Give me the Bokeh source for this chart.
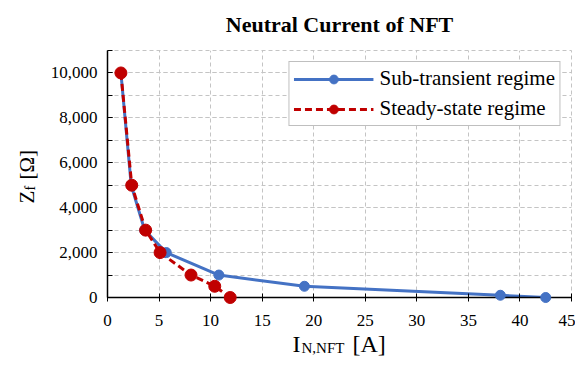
import math
from bokeh.plotting import figure
from bokeh.models import (Range1d, SingleIntervalTicker, FixedTicker, NumeralTickFormatter,
                          Legend, LegendItem)
from bokeh.core.properties import value
from bokeh.embed import file_html
from bokeh.resources import INLINE

# data
sub_I = [1.3, 2.3, 3.6, 5.7, 10.8, 19.1, 38.1, 42.5]
sub_Z = [10000, 5000, 3000, 2000, 1000, 500, 100, 0]
ss_I = [1.3, 2.35, 3.7, 5.1, 8.1, 10.4, 11.9]
ss_Z = [10000, 5000, 3000, 2000, 1000, 500, 0]
x_ticks = [0, 5, 10, 15, 20, 25, 30, 35, 40, 45]
X_MAX = 45
Y_MAX = 11000
TITLE = "Neutral Current of NFT"

SERIF = "Liberation Serif"
BLUE = "#4472C4"
RED = "#C00000"
GRID = "#c4c4c4"

W, H = 575, 369
BL, BR, BT, BB = 107, 4, 50, 72
FW, FH = W - BL - BR, H - BT - BB

p = figure(width=W, height=H, output_backend="svg", toolbar_location=None,
           x_range=Range1d(0, X_MAX), y_range=Range1d(0, Y_MAX),
           min_border_left=BL, min_border_right=BR, min_border_top=BT, min_border_bottom=BB)
p.background_fill_color = "white"
p.border_fill_color = "white"
p.outline_line_color = GRID
p.outline_line_dash = "4 3"

# axes
p.xaxis.ticker = FixedTicker(ticks=x_ticks)
p.xaxis.major_label_text_font = SERIF
p.xaxis.major_label_text_font_size = "17px"
p.xaxis.major_label_text_color = "black"
p.xaxis.axis_line_color = "black"
p.xaxis.axis_line_width = 1.5
p.xaxis.major_tick_in = 4
p.xaxis.major_tick_out = 4
p.xaxis.major_tick_line_color = "black"
p.xaxis.minor_tick_line_color = None
p.xaxis.major_label_standoff = 13

p.yaxis.ticker = SingleIntervalTicker(interval=2000, num_minor_ticks=2)
p.yaxis.formatter = NumeralTickFormatter(format="0,0")
p.yaxis.major_label_text_font = SERIF
p.yaxis.major_label_text_font_size = "17px"
p.yaxis.major_label_text_color = "black"
p.yaxis.axis_line_color = "black"
p.yaxis.axis_line_width = 1.5
p.yaxis.major_tick_in = 5
p.yaxis.major_tick_out = 0
p.yaxis.minor_tick_in = 5
p.yaxis.minor_tick_out = 0
p.yaxis.major_tick_line_color = "black"
p.yaxis.minor_tick_line_color = "black"
p.yaxis.major_label_standoff = 10

p.xgrid.grid_line_color = GRID
p.xgrid.grid_line_dash = "4 3"
p.ygrid.grid_line_color = GRID
p.ygrid.grid_line_dash = "4 3"
p.ygrid.minor_grid_line_color = GRID
p.ygrid.minor_grid_line_dash = "4 3"

# series
l1 = p.line(sub_I, sub_Z, line_color=BLUE, line_width=3)
s1 = p.scatter(sub_I, sub_Z, size=10, fill_color=BLUE, line_color=BLUE, level="overlay")
l2 = p.line(ss_I, ss_Z, line_color=RED, line_width=3, line_dash="7 4")
s2 = p.scatter(ss_I, ss_Z, size=12, fill_color=RED, line_color=RED, level="overlay")

legend = Legend(items=[LegendItem(label="Sub-transient regime", renderers=[l1, s1]),
                       LegendItem(label="Steady-state regime", renderers=[l2, s2])],
                location="top_right")
legend.label_text_font = SERIF
legend.label_text_font_size = "21px"
legend.label_text_color = "black"
legend.glyph_width = 80
legend.glyph_height = 22
legend.spacing = 5
legend.padding = 4
legend.margin = 11
legend.label_standoff = 6
legend.border_line_color = "#808080"
legend.border_line_width = 1
legend.background_fill_alpha = 1
p.add_layout(legend)

# title and axis labels (with subscripts), drawn as unclipped text placed by page pixel offsets
def dx(px):
    return (px - BL) / FW * X_MAX

def dy(py):
    return (BT + FH - py) / FH * Y_MAX

def lab(text, px, py, size, angle=0.0, align="left", style="normal"):
    p.text(x=[dx(px)], y=[dy(py)], text=[text], angle=angle, level="overlay",
           text_font=value(SERIF), text_font_size=value(size), text_color="black",
           text_font_style=style, text_align=align, text_baseline="alphabetic")

lab(TITLE, BL + FW / 2, 24, "22px", align="center", style="bold")
lab("Z", 26, 203, "21px", math.pi / 2)
lab("f", 30, 190, "14px", math.pi / 2)
lab("[Ω]", 26, 179, "21px", math.pi / 2)
lab("I", 292, 343, "24px")
lab("N,NFT", 301, 347, "15px")
lab("[A]", 352, 343, "24px")

open("out.html", "w").write(file_html(p, INLINE))
